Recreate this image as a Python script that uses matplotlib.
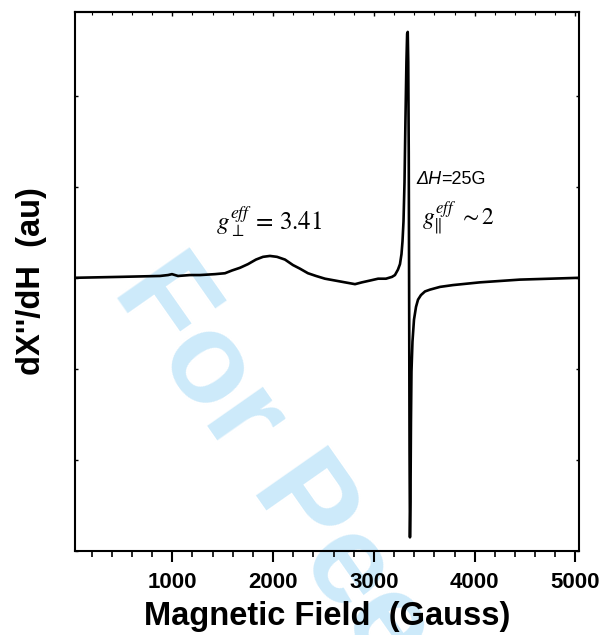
import matplotlib
matplotlib.use('Agg')
import matplotlib.pyplot as plt
from matplotlib.ticker import MultipleLocator

# EPR derivative spectrum, field in Gauss, signal in arbitrary units
field = [35, 481, 878, 958, 997, 1057, 1176, 1275, 1424, 1523, 1592, 1672,
         1751, 1830, 1900, 1969, 2039, 2118, 2197, 2267, 2346, 2426, 2515,
         2614, 2713, 2813, 2882, 2963, 3042, 3120, 3180, 3209, 3239, 3259,
         3274, 3284, 3294, 3304, 3313, 3323, 3330, 3336, 3341, 3346, 3350,
         3354, 3358, 3363, 3368, 3373, 3383, 3398, 3418, 3438, 3467, 3507,
         3557, 3656, 3785, 4053, 4449, 4747, 5040]
signal = [3.00, 3.01, 3.02, 3.03, 3.04, 3.02, 3.03, 3.03, 3.04, 3.05, 3.08,
          3.11, 3.15, 3.20, 3.23, 3.24, 3.23, 3.20, 3.14, 3.10, 3.05, 3.02,
          2.99, 2.97, 2.95, 2.93, 2.95, 2.97, 2.99, 2.99, 3.01, 3.03, 3.09,
          3.15, 3.26, 3.40, 3.62, 4.05, 4.71, 5.37, 5.68, 5.70, 5.37, 4.38,
          2.74, 1.09, 0.15, 0.54, 1.42, 1.97, 2.30, 2.54, 2.68, 2.76, 2.81,
          2.85, 2.87, 2.90, 2.92, 2.95, 2.98, 2.99, 3.00]

x_ticks = [1000, 2000, 3000, 4000, 5000]

plt.rcParams['font.family'] = ['Liberation Sans', 'DejaVu Sans']
plt.rcParams['mathtext.fontset'] = 'stix'

fig = plt.figure(figsize=(6.05, 6.35), dpi=100)
ax = fig.add_axes([0.124, 0.1323, 0.833, 0.849])
ax.patch.set_alpha(0)
ax.set_zorder(2)

ax.plot(field, signal, color='black', lw=1.9, zorder=3,
        solid_joinstyle='round')

ax.set_xlim(35, 5035)
ax.set_ylim(0, 5.92)
ax.set_xticks(x_ticks)
ax.xaxis.set_minor_locator(MultipleLocator(200))
ax.yaxis.set_major_locator(MultipleLocator(1))
ax.set_yticklabels([])

for s in ax.spines.values():
    s.set_linewidth(1.5)

ax.tick_params(axis='x', which='major', direction='out', length=8, width=1.5,
               labelsize=16, pad=7, top=False)
ax.tick_params(axis='x', which='minor', direction='out', length=4.5, width=1.2,
               top=False)
ax.tick_params(axis='y', which='major', direction='in', length=2.5, width=1,
               right=True)
for lbl in ax.get_xticklabels():
    lbl.set_fontweight('bold')

# top axis ticks point inward while the bottom ones point out
sec = ax.secondary_xaxis('top')
sec.set_xticks(x_ticks)
sec.xaxis.set_minor_locator(MultipleLocator(200))
sec.tick_params(which='major', direction='in', length=3, width=1, labeltop=False)
sec.tick_params(which='minor', direction='in', length=2, width=0.8)
sec.spines['top'].set_linewidth(1.5)

ax.set_xlabel('Magnetic Field  (Gauss)', fontsize=23.5, fontweight='bold',
              labelpad=6)
ax.set_ylabel("dX''/dH  (au)", fontsize=23.5, fontweight='bold', labelpad=17)

ax.text(1960, 3.62, r'$g_{\perp}^{eff}\,=\,3.41$', fontsize=18, ha='center',
        va='center', color='black')
dh = ax.text(3420, 4.08, 'ΔH', fontsize=13, fontstyle='italic', ha='left',
             va='center')
ax.annotate('=25G', xy=(1, 0.5), xycoords=dh, fontsize=13, ha='left',
            va='center')
ax.text(3480, 3.65, r'$g_{\Vert}^{eff}\ \sim 2$', fontsize=17, ha='left',
        va='center')

# watermark
fig.text(112 / 605, 1 - 290 / 635, 'For Peer Review', fontsize=92,
         fontweight='bold', color='#cdeafa', rotation=-55,
         rotation_mode='anchor', ha='left', va='baseline', zorder=1)

fig.savefig('out.png', dpi=100)
